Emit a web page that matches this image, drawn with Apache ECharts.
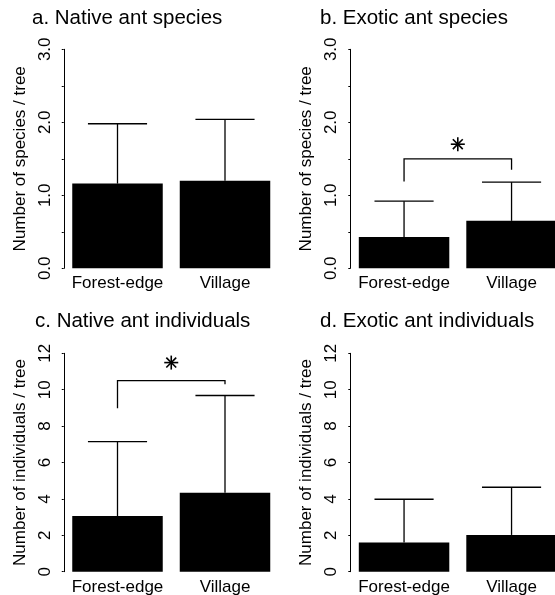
<!DOCTYPE html>
<html>
<head>
<meta charset="utf-8">
<script src="https://cdn.jsdelivr.net/npm/echarts@6/dist/echarts.min.js"></script>
<style>html,body{margin:0;padding:0;background:#fff}#c{width:555px;height:595px}</style>
</head>
<body>
<div id="c"></div>
<script>
const categories = ['Forest-edge', 'Village'];
const titles = ['a. Native ant species', 'b. Exotic ant species', 'c. Native ant individuals', 'd. Exotic ant individuals'];
const yNames = ['Number of species / tree', 'Number of species / tree', 'Number of individuals / tree', 'Number of individuals / tree'];

const nativeSpeciesMean = [1.16, 1.20];
const nativeSpeciesUpper = [1.98, 2.04];
const exoticSpeciesMean = [0.43, 0.65];
const exoticSpeciesUpper = [0.92, 1.18];
const nativeIndMean = [3.06, 4.34];
const nativeIndUpper = [7.15, 9.68];
const exoticIndMean = [1.60, 2.02];
const exoticIndUpper = [3.98, 4.64];

// significance brackets: [left end, bar level, right end], asterisk level
const bracketB = [1.19, 1.50, 1.35];
const starB = 1.70;
const bracketC = [8.98, 10.5, 10.3];
const starC = 11.49;

const speciesAxis = { min: 0, max: 3, interval: 0.5 };
const indAxis = { min: 0, max: 12, interval: 2 };

const FONT = 'Liberation Sans, Arial, sans-serif';
const means = [nativeSpeciesMean, exoticSpeciesMean, nativeIndMean, exoticIndMean];
const uppers = [nativeSpeciesUpper, exoticSpeciesUpper, nativeIndUpper, exoticIndUpper];
const axes = [speciesAxis, speciesAxis, indAxis, indAxis];

const grids = [
  { left: 63.75, top: 49.3, width: 215, height: 219, outerBoundsMode: 'none', containLabel: false },
  { left: 350.3, top: 49.3, width: 215, height: 219, outerBoundsMode: 'none', containLabel: false },
  { left: 63.75, top: 353.3, width: 215, height: 218.4, outerBoundsMode: 'none', containLabel: false },
  { left: 350.3, top: 353.3, width: 215, height: 218.4, outerBoundsMode: 'none', containLabel: false }
];
const titlePos = [
  { left: 32, top: 8 },
  { left: 320, top: 8 },
  { left: 35, top: 311 },
  { left: 320, top: 311 }
];

const option = {
  animation: false,
  backgroundColor: '#fff',
  title: titles.map((t, i) => ({
    text: t, left: titlePos[i].left, top: titlePos[i].top, padding: 0,
    textStyle: { fontFamily: FONT, fontSize: 20.5, fontWeight: 'normal', color: '#000' }
  })),
  grid: grids,
  xAxis: grids.map((g, i) => ({
    type: 'category', gridIndex: i, data: categories,
    axisLine: { show: false }, axisTick: { show: false },
    axisLabel: { interval: 0, hideOverlap: false, color: '#000', fontFamily: FONT, fontSize: 17, margin: 7 }
  })),
  yAxis: axes.map((a, i) => ({
    type: 'value', gridIndex: i, min: a.min, max: a.max, interval: a.interval,
    name: yNames[i], nameLocation: 'middle', nameRotate: 90, nameGap: 35,
    nameTextStyle: { color: '#000', fontFamily: FONT, fontSize: 17 },
    axisLine: { show: true, lineStyle: { color: '#000', width: 1 } },
    axisTick: { show: true, length: 2, lineStyle: { color: '#000' } },
    splitLine: { show: false },
    axisLabel: {
      rotate: 90, margin: 10, color: '#000', fontFamily: FONT, fontSize: 17, hideOverlap: false,
      formatter: a.max === 3 ? (v => (Math.abs(v - Math.round(v)) < 1e-9 ? v.toFixed(1) : '')) : (v => String(v))
    }
  })),
  series: []
};

for (let i = 0; i < 4; i++) {
  option.series.push({
    type: 'bar', xAxisIndex: i, yAxisIndex: i, data: means[i],
    barWidth: 90.5, itemStyle: { color: '#000' }, silent: true
  });
  option.series.push({
    type: 'custom', xAxisIndex: i, yAxisIndex: i, silent: true,
    data: means[i].map((m, k) => [k, m, uppers[i][k]]),
    renderItem: function (params, api) {
      const p0 = api.coord([api.value(0), api.value(1)]);
      const p1 = api.coord([api.value(0), api.value(2)]);
      const hw = api.size([1, 0])[0] * 0.275;
      const st = { stroke: '#000', lineWidth: 1.3 };
      return { type: 'group', children: [
        { type: 'line', shape: { x1: p0[0], y1: p0[1], x2: p1[0], y2: p1[1] }, style: st },
        { type: 'line', shape: { x1: p1[0] - hw, y1: p1[1], x2: p1[0] + hw, y2: p1[1] }, style: st }
      ]};
    }
  });
}

function addBracket(idx, br, star) {
  option.series.push({
    type: 'custom', xAxisIndex: idx, yAxisIndex: idx, silent: true,
    data: [[br[0], br[1], br[2], star]],
    renderItem: function (params, api) {
      const a = api.coord([0, api.value(0)]);
      const b = api.coord([0, api.value(1)]);
      const c = api.coord([1, api.value(1)]);
      const d = api.coord([1, api.value(2)]);
      const sy = api.coord([0, api.value(3)])[1];
      const sx = (a[0] + d[0]) / 2;
      const r = 7;
      const st = { stroke: '#000', lineWidth: 1.3, fill: null };
      const children = [
        { type: 'polyline', shape: { points: [a, b, c, d] }, style: st }
      ];
      const ang = [0, Math.PI / 4, Math.PI / 2, 3 * Math.PI / 4];
      ang.forEach(t => {
        const dx = Math.cos(t) * r, dy = Math.sin(t) * r;
        children.push({ type: 'line', shape: { x1: sx - dx, y1: sy - dy, x2: sx + dx, y2: sy + dy }, style: { stroke: '#000', lineWidth: 1.6 } });
      });
      return { type: 'group', children: children };
    }
  });
}
addBracket(1, bracketB, starB);
addBracket(2, bracketC, starC);

const chart = echarts.init(document.getElementById('c'), null, { renderer: 'canvas' });
chart.setOption(option);
</script>
</body>
</html>
